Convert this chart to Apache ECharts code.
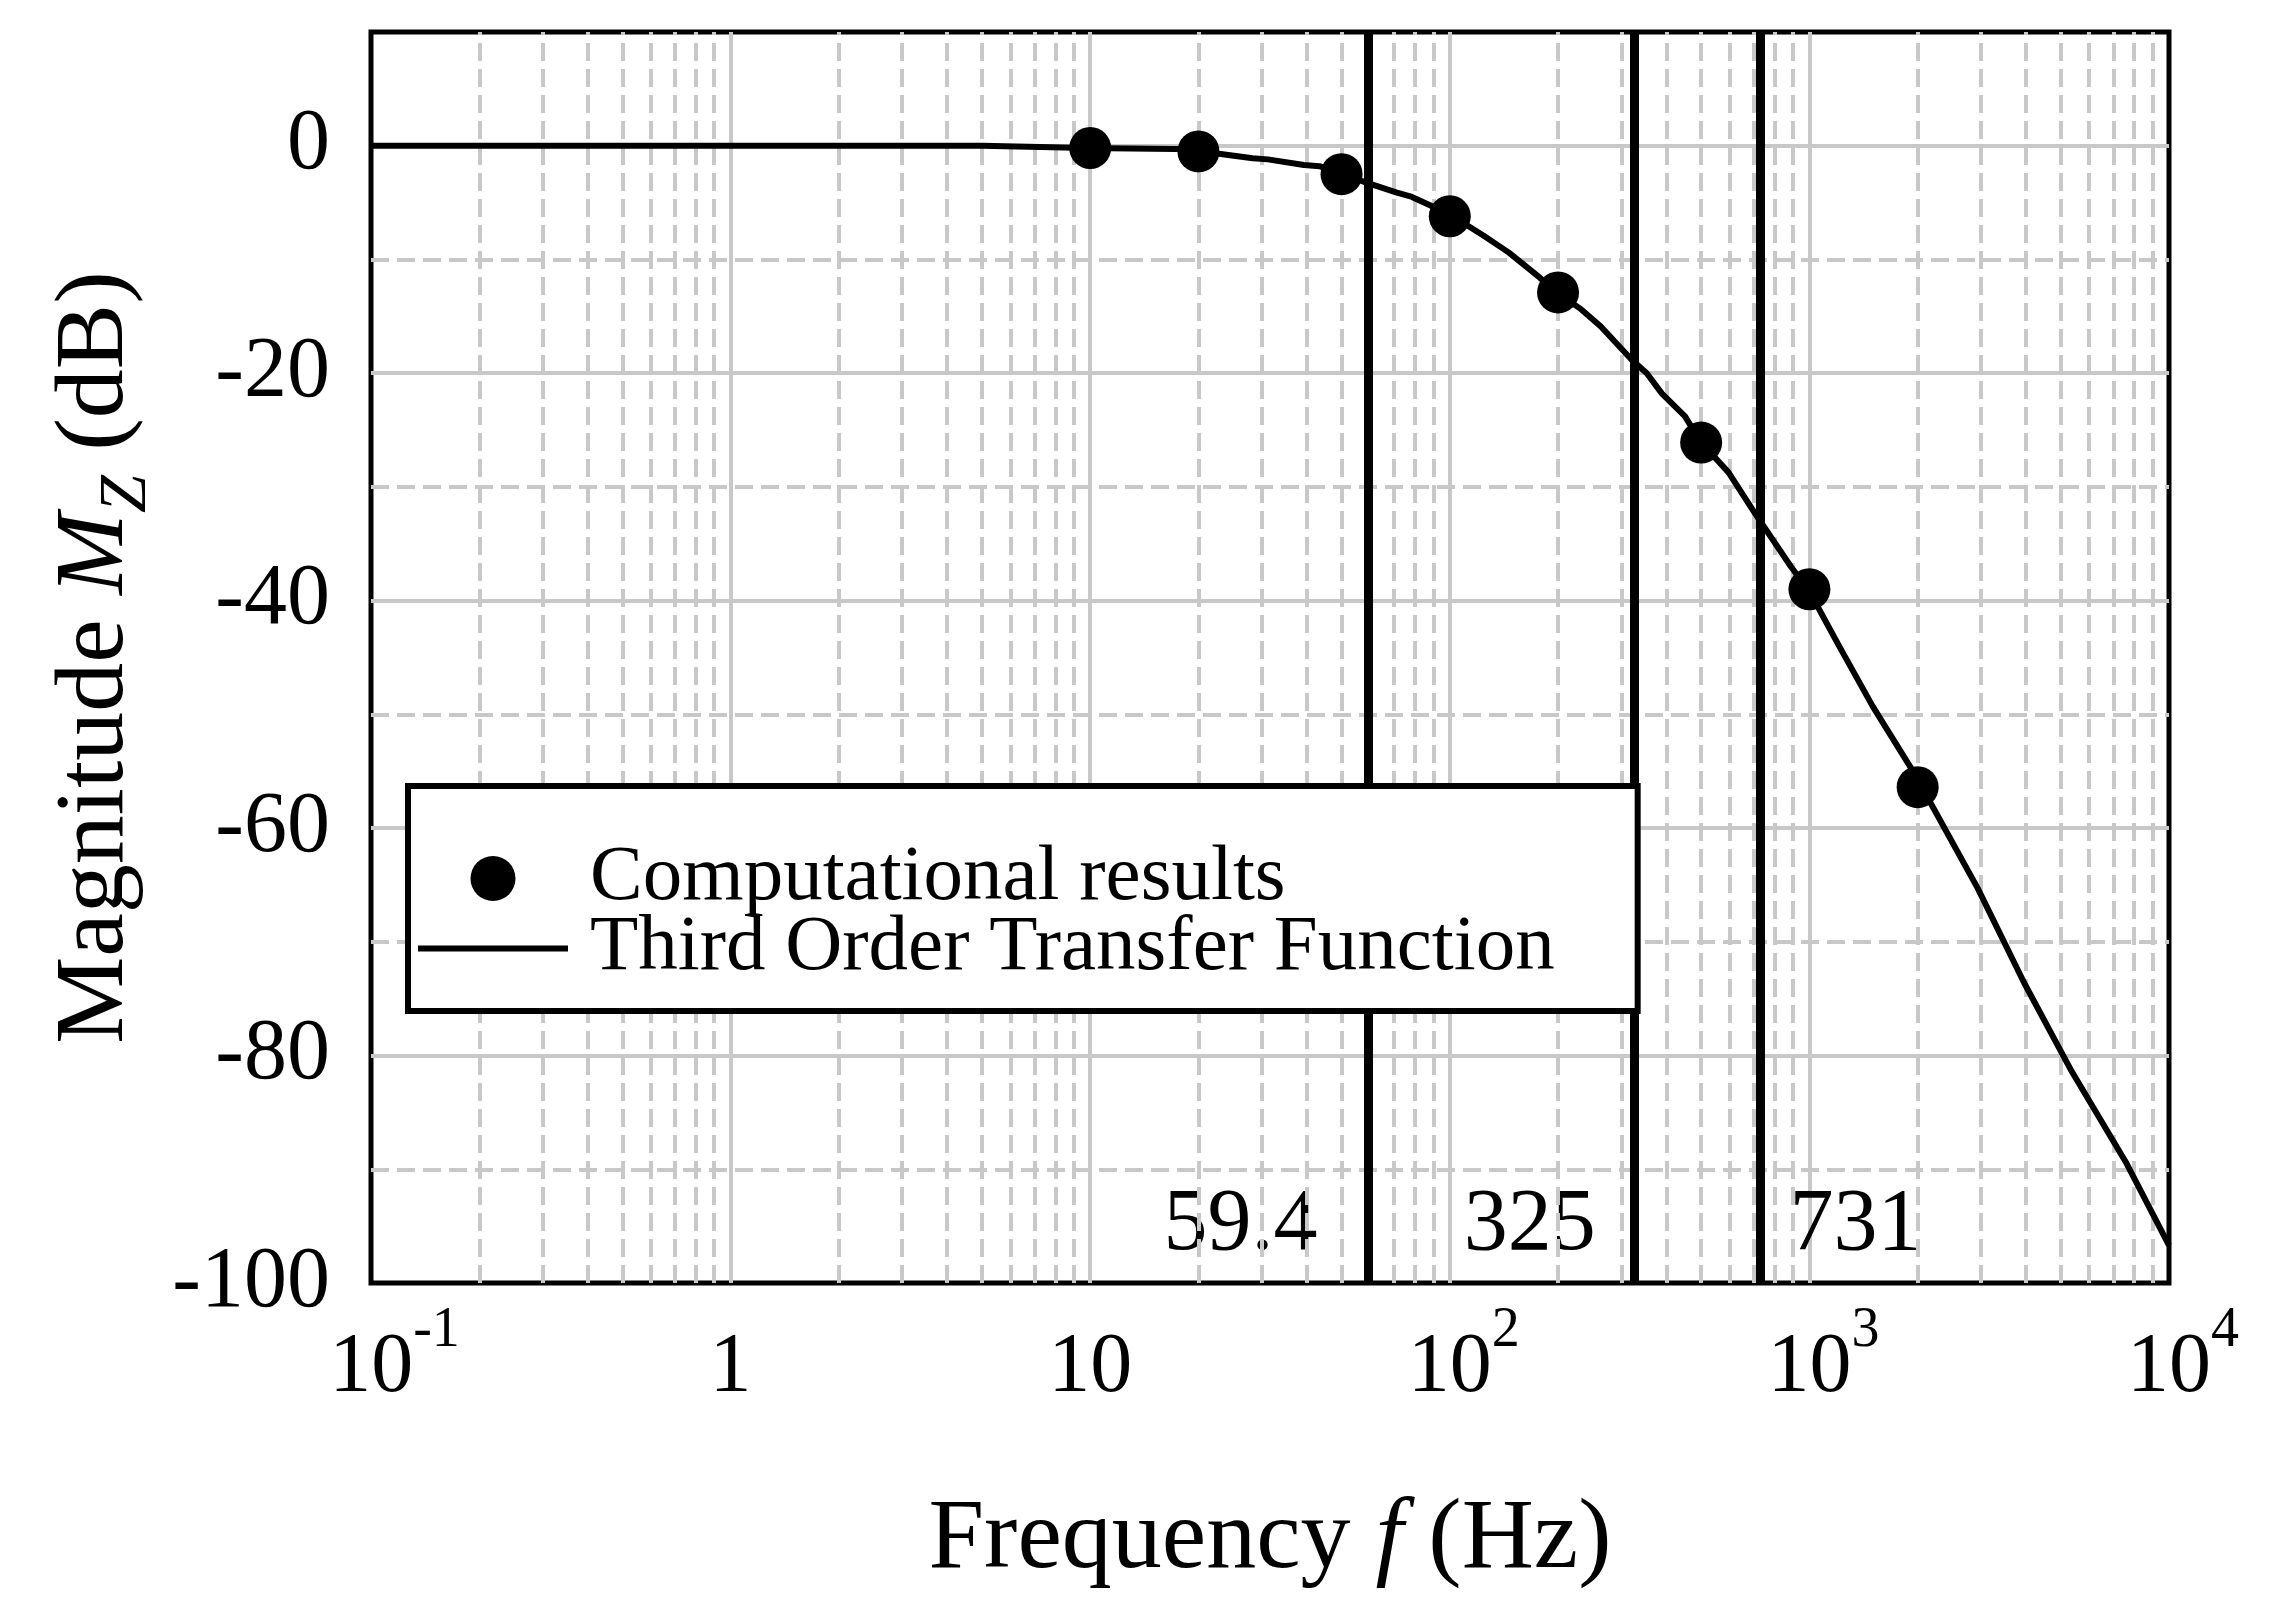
<!DOCTYPE html>
<html><head><meta charset="utf-8">
<script src="https://cdn.jsdelivr.net/npm/echarts@6/dist/echarts.min.js"></script>
<style>html,body{margin:0;padding:0;background:#fff}#c{width:2270px;height:1615px}</style>
</head><body><div id="c"></div>
<script>
// ---- data ----
const computedFreq = [10, 20, 50, 100, 200, 500, 1000, 2000];
const computedMag  = [-0.2, -0.5, -2.5, -6.2, -12.9, -26.1, -39.0, -56.4];

const tfFreq = [0.1, 1, 5, 9.8, 19.8, 22.8, 28.3, 31.2, 39.3, 43.4, 49.3, 58.1, 70.9, 78.5, 89, 99.5,
                124, 146, 178, 198, 230, 263, 320, 353, 389, 451, 497, 595, 705, 888, 1000,
                1210, 1500, 1923, 2183, 2939, 3954, 5321, 7624, 10000];
const tfMag  = [0, 0, 0, -0.2, -0.3, -0.7, -1.1, -1.2, -1.7, -1.8, -2.4, -3.2, -4.1, -4.5, -5.3, -6.0,
                -7.9, -9.4, -11.6, -12.9, -14.3, -15.9, -18.8, -20.0, -21.8, -23.8, -26.0, -28.7, -32.3, -37.0, -39.2,
                -44.0, -49.3, -54.8, -57.9, -65.3, -73.6, -81.2, -89.5, -96.7];

const cornerFreqs  = [59.4, 325, 731];
const cornerLabels = ['59.4', '325', '731'];

const xMinorGrid = [0.2,0.3,0.4,0.5,0.6,0.7,0.8,0.9, 2,3,4,5,6,7,8,9, 20,30,40,50,60,70,80,90,
                    200,300,400,500,600,700,800,900, 2000,3000,4000,5000,6000,7000,8000,9000];
const yMinorGrid = [-90, -70, -50, -30, -10];

const seriesNames = ['Computational results', 'Third Order Transfer Function'];

// ---- chart ----
const FONT = 'Liberation Serif';
const GRID_GRAY = '#c8c8c8';
const chart = echarts.init(document.getElementById('c'), null, {renderer: 'canvas'});

const dashStyle = {color: GRID_GRAY, width: 4, type: [18, 8], opacity: 1};
const cornerStyle = {color: '#000', width: 9, type: 'solid', opacity: 1};

const option = {
  animation: false,
  backgroundColor: '#fff',
  grid: {left: 371, right: 101, top: 32, bottom: 332, show: true,
         borderColor: '#000', borderWidth: 5, backgroundColor: 'transparent'},
  legend: {
    z: 100, zlevel: 0,
    data: [
      {name: seriesNames[0], icon: 'circle', itemStyle: {color: '#000', opacity: 1}},
      {name: seriesNames[1], icon: 'path://M0,0L150,0L150,6L0,6Z',
       itemStyle: {color: '#000', opacity: 1, borderWidth: 0}}
    ],
    symbolKeepAspect: true,
    orient: 'vertical', left: 408, top: 786,
    itemWidth: 150, itemHeight: 45, itemGap: -9,
    padding: [53, 83, 23, 10],
    backgroundColor: '#fff', borderColor: '#000', borderWidth: 6,
    selectedMode: false,
    textStyle: {fontFamily: FONT, fontSize: 79, color: '#000', padding: [0, 0, 0, 17]}
  },
  xAxis: {
    type: 'log', logBase: 10, min: 0.1, max: 10000, splitNumber: 5,
    axisLine: {show: false}, axisTick: {show: false},
    splitLine: {show: true, showMinLine: false, showMaxLine: false,
                lineStyle: {color: GRID_GRAY, width: 4}},
    axisLabel: {
      margin: 44, color: '#000', fontFamily: FONT,
      formatter: function (v) {
        const e = Math.round(Math.log10(v));
        if (e === 0) return '{b|1}';
        if (e === 1) return '{b|10}';
        return (e < 0 ? '{bn|10}' : '{bp|10}') + '{s|' + e + '}';
      },
      rich: {
        b:  {fontFamily: FONT, fontSize: 84, lineHeight: 84, padding: [24, 0, 0, 0], verticalAlign: 'bottom', color: '#000'},
        bn: {fontFamily: FONT, fontSize: 84, lineHeight: 84, padding: [24, 0, 0, 47], verticalAlign: 'bottom', color: '#000'},
        bp: {fontFamily: FONT, fontSize: 84, lineHeight: 84, padding: [24, 0, 0, 28], verticalAlign: 'bottom', color: '#000'},
        s:  {fontFamily: FONT, fontSize: 56, lineHeight: 56, padding: [0, 0, 52, 0], verticalAlign: 'bottom', color: '#000'}
      }
    },
    name: '{t|Frequency }{i|f}{t| (Hz)}',
    nameLocation: 'middle', nameGap: 208,
    nameTextStyle: {
      rich: {
        t: {fontFamily: FONT, fontSize: 100, color: '#000'},
        i: {fontFamily: FONT, fontSize: 100, fontStyle: 'italic', color: '#000'}
      }
    }
  },
  yAxis: {
    type: 'value', min: -100, max: 10, interval: 20,
    axisLine: {show: false}, axisTick: {show: false},
    splitLine: {show: true, showMinLine: false, showMaxLine: false,
                lineStyle: {color: GRID_GRAY, width: 4}},
    axisLabel: {margin: 41, color: '#000', fontFamily: FONT, fontSize: 86, showMaxLabel: false,
                formatter: v => (v > 0 ? '' : String(v))},
    name: '{t|Magnitude }{i|M}{s|Z}{t| (dB)}',
    nameLocation: 'middle', nameRotate: 90, nameGap: 210,
    nameTextStyle: {
      rich: {
        t: {fontFamily: FONT, fontSize: 98, lineHeight: 98, padding: [0, 0, 16, 0], verticalAlign: 'bottom', color: '#000'},
        i: {fontFamily: FONT, fontSize: 98, lineHeight: 98, padding: [0, 0, 16, 0], verticalAlign: 'bottom', fontStyle: 'italic', color: '#000'},
        s: {fontFamily: FONT, fontSize: 68, lineHeight: 68, verticalAlign: 'bottom', fontStyle: 'italic', color: '#000'}
      }
    }
  },
  series: [
    {
      name: 'minorGrid', type: 'line', data: [], z: 1, silent: true,
      lineStyle: dashStyle,
      markLine: {
        silent: true, symbol: ['none', 'none'], label: {show: false}, animation: false,
        lineStyle: dashStyle,
        emphasis: {disabled: true},
        data: xMinorGrid.map(v => ({xAxis: v, lineStyle: dashStyle}))
          .concat(yMinorGrid.map(v => ({yAxis: v, lineStyle: dashStyle})))
      }
    },
    {
      name: 'corners', type: 'line', data: [], z: 4, silent: true,
      lineStyle: cornerStyle,
      markLine: {
        silent: true, symbol: ['none', 'none'], label: {show: false}, animation: false,
        lineStyle: cornerStyle,
        emphasis: {disabled: true},
        data: cornerFreqs.map(v => ({xAxis: v, lineStyle: cornerStyle}))
      }
    },
    {
      name: 'cornerLabels', type: 'scatter', symbolSize: 0, z: 4, silent: true,
      itemStyle: {opacity: 1},
      data: cornerFreqs.map((f, i) => ({
        value: [f, -95],
        label: {position: i === 2 ? 'right' : 'left', distance: [51, 38, 29][i]}
      })),
      label: {show: true, fontFamily: FONT, fontSize: 88, color: '#000', opacity: 1,
              formatter: p => cornerLabels[p.dataIndex]}
    },
    {
      name: seriesNames[1], type: 'line', symbol: 'none', z: 5,
      lineStyle: {color: '#000', width: 6}, itemStyle: {color: '#000'},
      data: tfFreq.map((f, i) => [f, tfMag[i]])
    },
    {
      name: seriesNames[0], type: 'scatter', symbol: 'circle', symbolSize: 42, z: 6,
      itemStyle: {color: '#000', opacity: 1},
      data: computedFreq.map((f, i) => [f, computedMag[i]])
    }
  ]
};
chart.setOption(option);
</script>
</body></html>
